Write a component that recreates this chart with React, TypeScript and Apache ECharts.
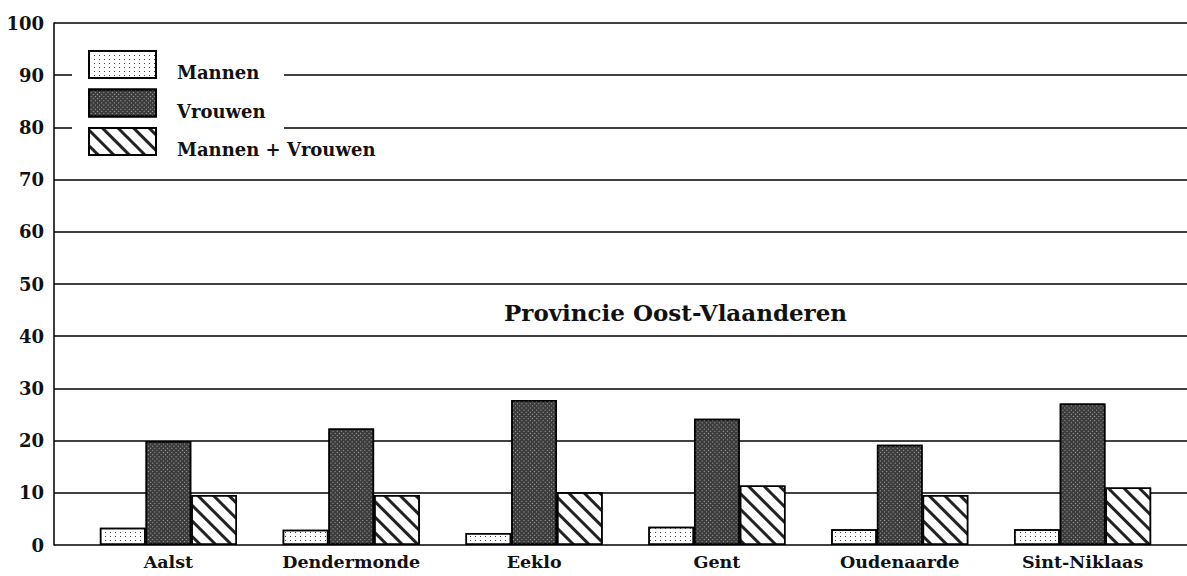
import React, { useEffect, useRef } from "react";
import * as echarts from "echarts";

const categories = ["Aalst", "Dendermonde", "Eeklo", "Gent", "Oudenaarde", "Sint-Niklaas"];
const mannen = [3.3, 2.9, 2.3, 3.5, 3.0, 3.0];
const vrouwen = [19.9, 22.3, 27.8, 24.2, 19.2, 27.1];
const mannenVrouwen = [9.6, 9.6, 10.1, 11.4, 9.6, 11.0];
const seriesNames = ["Mannen", "Vrouwen", "Mannen + Vrouwen"];
const titleText = "Provincie Oost-Vlaanderen";

const FONT = "'DejaVu Serif', 'Liberation Serif', serif";

export default function App() {
  const ref = useRef<HTMLDivElement>(null);
  useEffect(() => {
    if (!ref.current) return;
    const chart = echarts.init(ref.current, null, { renderer: "svg" });
    const border = { borderColor: "#000", borderWidth: 1.5 };
    chart.setOption({
      animation: false,
      backgroundColor: "#fff",
      title: {
        text: titleText,
        left: 499,
        top: 296,
        textStyle: { fontFamily: FONT, fontSize: 23, fontWeight: "bold", color: "#111" },
      },
      legend: {
        orient: "vertical",
        left: 88,
        top: 50,
        z: 10,
        icon: "rect",
        itemWidth: 67,
        itemHeight: 27,
        itemGap: 7,
        padding: 0,
        data: seriesNames,
        formatter: "{n|{name}}",
        textStyle: {
          fontFamily: FONT,
          fontSize: 18,
          fontWeight: "bold",
          color: "#111",
          padding: [0, 0, 0, 16],
          rich: {
            n: {
              fontFamily: FONT,
              fontSize: 18,
              fontWeight: "bold",
              color: "#111",
              padding: [16, 0, 0, 0],
            },
          },
        },
      },
      graphic: [
        {
          type: "rect",
          z: 5,
          shape: { x: 72, y: 34, width: 212, height: 132 },
          style: { fill: "#fff" },
        },
      ],
      grid: [
        { left: 54, right: 0, top: 23, bottom: 31 },
        { left: 77, right: 13, top: 23, bottom: 31 },
      ],
      xAxis: [
        { type: "value", gridIndex: 0, min: 0, max: 1, show: false },
        {
          type: "category",
          gridIndex: 1,
          data: categories,
          axisLine: { show: false },
          axisTick: { show: false },
          axisLabel: { fontFamily: FONT, fontSize: 17.5, fontWeight: "bold", color: "#111", margin: 8 },
        },
      ],
      yAxis: [
        {
          type: "value",
          gridIndex: 0,
          min: 0,
          max: 100,
          interval: 10,
          axisLine: { show: true, lineStyle: { color: "#000", width: 1.5 } },
          axisTick: { show: false },
          axisLabel: { fontFamily: FONT, fontSize: 18, fontWeight: "bold", color: "#111", margin: 10 },
          splitLine: { show: true, lineStyle: { color: "#000", width: 1.5 } },
        },
        { type: "value", gridIndex: 1, min: 0, max: 100, show: false, splitLine: { show: false } },
      ],
      series: [
        {
          name: seriesNames[0],
          type: "bar",
          xAxisIndex: 1,
          yAxisIndex: 1,
          data: mannen,
          barGap: "0%",
          barCategoryGap: "25%",
          itemStyle: {
            color: "#fff",
            ...border,
            decal: { symbol: "rect", color: "#444", dashArrayX: [1, 4], dashArrayY: [1, 3], symbolSize: 1 },
          },
        },
        {
          name: seriesNames[1],
          type: "bar",
          xAxisIndex: 1,
          yAxisIndex: 1,
          data: vrouwen,
          itemStyle: {
            color: "#3c3c3c",
            ...border,
            decal: {
              symbol: "rect",
              color: "rgba(255,255,255,0.55)",
              dashArrayX: [1, 2],
              dashArrayY: [1, 2],
              rotation: Math.PI / 4,
              symbolSize: 1,
            },
          },
        },
        {
          name: seriesNames[2],
          type: "bar",
          xAxisIndex: 1,
          yAxisIndex: 1,
          data: mannenVrouwen,
          itemStyle: {
            color: "#fff",
            ...border,
            decal: {
              symbol: "rect",
              color: "#222",
              dashArrayX: [1, 0],
              dashArrayY: [3, 8],
              rotation: Math.PI / 4,
              symbolSize: 1,
            },
          },
        },
      ],
    });
    return () => chart.dispose();
  }, []);
  return (
    <div
      ref={ref}
      style={{ position: "absolute", left: 0, top: 0, width: 1187, height: 576 }}
    />
  );
}
